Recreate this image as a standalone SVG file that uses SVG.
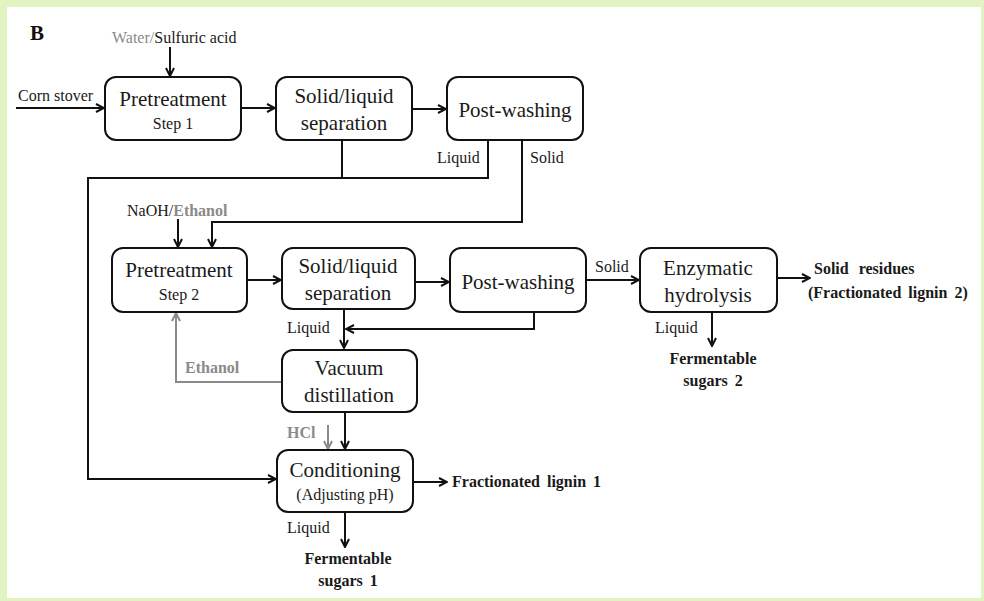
<svg xmlns="http://www.w3.org/2000/svg" width="984" height="601" viewBox="0 0 984 601">
<defs>
<marker id="ah" markerWidth="10" markerHeight="10" refX="9" refY="5" orient="auto" markerUnits="userSpaceOnUse"><path d="M1,1 L9,5 L1,9" fill="none" stroke="#111" stroke-width="2"/></marker>
<marker id="ahg" markerWidth="10" markerHeight="10" refX="9" refY="5" orient="auto" markerUnits="userSpaceOnUse"><path d="M1,1 L9,5 L1,9" fill="none" stroke="#8a8a8a" stroke-width="2"/></marker>
<style>
.box{fill:#fff;stroke:#111;stroke-width:2}
.t{font-family:"Liberation Serif",serif;fill:#1a1a1a;text-anchor:middle}
.big{font-size:21px}
.sm{font-size:16px}
.lbl{font-family:"Liberation Serif",serif;font-size:16px;fill:#1a1a1a}
.b{font-weight:bold}
.ws{word-spacing:3px}
.g{fill:#8a8a8a}
.c{fill:none;stroke:#111;stroke-width:2}
.cg{fill:none;stroke:#8a8a8a;stroke-width:2}
</style>
</defs>
<rect x="0" y="0" width="984" height="601" fill="#fff"/>
<rect x="0" y="0" width="984" height="7" fill="#e0f3c0"/>
<rect x="0" y="0" width="7" height="601" fill="#e0f3c0"/>
<rect x="0" y="598" width="984" height="3" fill="#e0f3c0"/>
<rect x="981" y="0" width="3" height="601" fill="#e0f3c0"/>
<text x="30" y="40" font-family="Liberation Serif,serif" font-size="21" font-weight="bold" fill="#111">B</text>

<g id="connectors">
<line class="c" x1="16" y1="108" x2="104" y2="108" marker-end="url(#ah)"/>
<line class="c" x1="170" y1="47" x2="170" y2="76" marker-end="url(#ah)"/>
<line class="c" x1="241" y1="108" x2="275" y2="108" marker-end="url(#ah)"/>
<line class="c" x1="412" y1="109" x2="446" y2="109" marker-end="url(#ah)"/>
<polyline class="c" points="342,140 342,178"/>
<polyline class="c" points="488,140 488,178 88,178 88,479 276,479" marker-end="url(#ah)"/>
<polyline class="c" points="522,140 522,222 212,222 212,247" marker-end="url(#ah)"/>
<line class="c" x1="178" y1="219" x2="178" y2="247" marker-end="url(#ah)"/>
<line class="c" x1="247" y1="280" x2="281" y2="280" marker-end="url(#ah)"/>
<line class="c" x1="415" y1="282" x2="449" y2="282" marker-end="url(#ah)"/>
<line class="c" x1="586" y1="280" x2="639" y2="280" marker-end="url(#ah)"/>
<line class="c" x1="777" y1="278" x2="810" y2="278" marker-end="url(#ah)"/>
<line class="c" x1="712" y1="312" x2="712" y2="346" marker-end="url(#ah)"/>
<line class="c" x1="344" y1="309" x2="344" y2="348" marker-end="url(#ah)"/>
<polyline class="c" points="534,312 534,329 346,329" marker-end="url(#ah)"/>
<polyline class="cg" points="282,382 176,382 176,313" marker-end="url(#ahg)"/>
<line class="c" x1="345" y1="412" x2="345" y2="449" marker-end="url(#ah)"/>
<line class="cg" x1="328" y1="425" x2="328" y2="449" marker-end="url(#ahg)"/>
<line class="c" x1="413" y1="482" x2="447" y2="482" marker-end="url(#ah)"/>
<line class="c" x1="345" y1="512" x2="345" y2="547" marker-end="url(#ah)"/>
</g>

<g id="labels">
<text class="lbl" x="112" y="43" font-size="17"><tspan class="g">Water/</tspan>Sulfuric acid</text>
<text class="lbl" x="18" y="101" font-size="17">Corn stover</text>
<text class="lbl" x="437" y="163">Liquid</text>
<text class="lbl" x="530" y="163">Solid</text>
<text class="lbl" x="127" y="216">NaOH/<tspan class="g b">Ethanol</tspan></text>
<text class="lbl" x="595" y="272">Solid</text>
<text class="lbl" x="287" y="333">Liquid</text>
<text class="lbl b g" x="185" y="373">Ethanol</text>
<text class="lbl b g" x="287" y="438">HCl</text>
<text class="lbl" x="287" y="533">Liquid</text>
<text class="lbl" x="655" y="333">Liquid</text>
<text class="lbl b" x="814" y="274" style="word-spacing:6px">Solid residues</text>
<text class="lbl b ws" x="808" y="298" font-size="17">(Fractionated lignin 2)</text>
<text class="t sm b" x="713" y="364">Fermentable</text>
<text class="t sm b ws" x="713" y="386">sugars 2</text>
<text class="lbl b ws" x="452" y="487" font-size="17">Fractionated lignin 1</text>
<text class="t sm b" x="348" y="564">Fermentable</text>
<text class="t sm b ws" x="348" y="586">sugars 1</text>
</g>

<g id="pretreatment1">
<rect class="box" x="105" y="77" width="136" height="63" rx="11"/>
<text class="t big" x="173" y="106">Pretreatment</text>
<text class="t sm" x="173" y="129">Step 1</text>
</g>
<g id="separation1">
<rect class="box" x="276" y="77" width="136" height="63" rx="11"/>
<text class="t big" x="344" y="103">Solid/liquid</text>
<text class="t big" x="344" y="130">separation</text>
</g>
<g id="postwashing1">
<rect class="box" x="447" y="77" width="136" height="63" rx="11"/>
<text class="t big" x="515" y="117">Post-washing</text>
</g>
<g id="pretreatment2">
<rect class="box" x="112" y="248" width="135" height="64" rx="11"/>
<text class="t big" x="179" y="277">Pretreatment</text>
<text class="t sm" x="179" y="300">Step 2</text>
</g>
<g id="separation2">
<rect class="box" x="282" y="248" width="133" height="61" rx="11"/>
<text class="t big" x="348" y="273">Solid/liquid</text>
<text class="t big" x="348" y="300">separation</text>
</g>
<g id="postwashing2">
<rect class="box" x="450" y="248" width="136" height="64" rx="11"/>
<text class="t big" x="518" y="289">Post-washing</text>
</g>
<g id="enzymatic">
<rect class="box" x="640" y="248" width="137" height="64" rx="11"/>
<text class="t big" x="708" y="275">Enzymatic</text>
<text class="t big" x="708" y="302">hydrolysis</text>
</g>
<g id="vacuum">
<rect class="box" x="282" y="350" width="135" height="62" rx="11"/>
<text class="t big" x="349" y="375">Vacuum</text>
<text class="t big" x="349" y="402">distillation</text>
</g>
<g id="conditioning">
<rect class="box" x="277" y="450" width="136" height="62" rx="11"/>
<text class="t big" x="345" y="477">Conditioning</text>
<text class="t sm" x="345" y="500">(Adjusting pH)</text>
</g>
</svg>
